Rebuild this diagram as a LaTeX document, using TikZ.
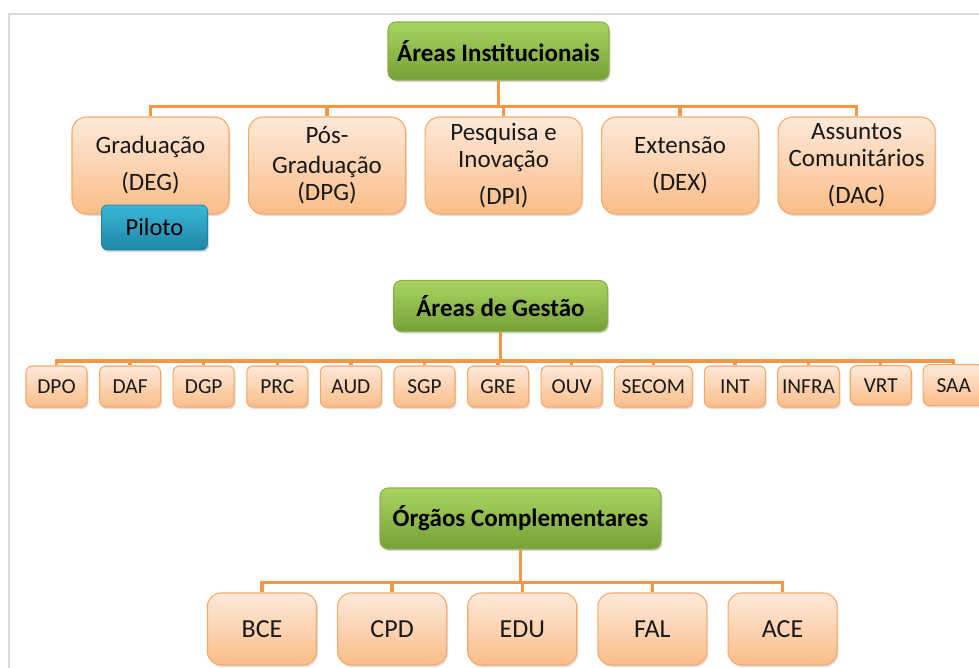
\documentclass[tikz,border=0pt]{standalone}
\usepackage{fontspec}
\setmainfont{Carlito}
\usepackage{tikz}
\usetikzlibrary{shapes.geometric, shadows}
\definecolor{laranja}{HTML}{F79646}
\definecolor{laranjaborda}{HTML}{F8A866}
\definecolor{pessego}{HTML}{FDE9DA}
\definecolor{pessegoescuro}{HTML}{FBBD88}
\definecolor{verdeclaro}{HTML}{AAD460}
\definecolor{verdeescuro}{HTML}{76A038}
\definecolor{verdeborda}{HTML}{8AAE48}
\definecolor{azulclaro}{HTML}{3AB6D8}
\definecolor{azulescuro}{HTML}{1D88A6}
\definecolor{cinza}{HTML}{DADADA}
\tikzstyle{titulo} = [rectangle, rounded corners=6pt, draw=verdeborda, line width=0.8pt, top color=verdeclaro, bottom color=verdeescuro, text centered, font=\bfseries\fontsize{18.75}{22}\selectfont, drop shadow={opacity=0.3, shadow xshift=1pt, shadow yshift=-1.5pt}]
\tikzstyle{area} = [rectangle, rounded corners=11pt, minimum width=117.75pt, minimum height=72.75pt, align=center, draw=laranjaborda, line width=0.8pt, top color=pessego, bottom color=pessegoescuro, text=black!90, font=\fontsize{18.75}{20.25}\selectfont, drop shadow={opacity=0.25, shadow xshift=1pt, shadow yshift=-1.5pt}]
\tikzstyle{setor} = [rectangle, rounded corners=4.5pt, minimum width=45.75pt, minimum height=30.75pt, text centered, draw=laranjaborda, line width=0.8pt, top color=pessego, bottom color=pessegoescuro, text=black!90, font=\fontsize{16}{18}\selectfont, drop shadow={opacity=0.25, shadow xshift=1pt, shadow yshift=-1.5pt}]
\tikzstyle{orgao} = [rectangle, rounded corners=10pt, minimum width=81.75pt, minimum height=54pt, text centered, draw=laranjaborda, line width=0.8pt, top color=pessego, bottom color=pessegoescuro, text=black!90, font=\fontsize{19.5}{22}\selectfont, drop shadow={opacity=0.25, shadow xshift=1pt, shadow yshift=-1.5pt}]
\tikzstyle{piloto} = [rectangle, rounded corners=4.5pt, minimum width=79.5pt, minimum height=33.75pt, text centered, draw=azulescuro, line width=0.6pt, top color=azulclaro, bottom color=azulescuro, font=\fontsize{18.4}{22}\selectfont, drop shadow={opacity=0.3, shadow xshift=1pt, shadow yshift=-1.5pt}]
\tikzstyle{ligacao} = [draw=laranja, line width=2.5pt]
\tikzstyle{moldura} = [draw=cinza, line width=1.5pt]

\begin{document}
\begin{tikzpicture}[x=0.75pt, y=-0.75pt]
		\useasboundingbox (0,0) rectangle (979,668);
		\clip (0,0) rectangle (979,668);
		\draw [moldura] (979,14) -- (9,14) -- (9,668);
		
		% areas institucionais
		\node (inst) [titulo, minimum width=165.75pt, minimum height=43.5pt] at (498.5,51) {Áreas Institucionais};
		\begin{scope}[node distance=132.4pt]
		\node (grad) [area] at (150.5,165.5) {Graduação\\[7.5pt](DEG)};
		\node (pos) [area, right of=grad] {Pós-\\[2.5pt]Graduação\\(DPG)};
		\node (pesq) [area, right of=pos] {Pesquisa e\\Inovação\\[7.5pt](DPI)};
		\node (ext) [area, right of=pesq] {Extensão\\[7.5pt](DEX)};
		\node (dac) [area, right of=ext] {Assuntos\\Comunitários\\[7.5pt](DAC)};
		\end{scope}
		\node (pil) [piloto, node distance=46.5pt, below of=grad, xshift=3pt] {Piloto};
		
		\draw [ligacao] (inst.south) -- ++(0,26) -| (grad.north);
		\draw [ligacao] (inst.south) -- ++(0,26) -| (pos.north);
		\draw [ligacao] (inst.south) -- ++(0,26) -| (pesq.north);
		\draw [ligacao] (inst.south) -- ++(0,26) -| (ext.north);
		\draw [ligacao] (inst.south) -- ++(0,26) -| (dac.north);
		
		% areas de gestao
		\node (gest) [titulo, minimum width=160.5pt, minimum height=38.25pt] at (500.5,306) {Áreas de Gestão};
		\begin{scope}[node distance=55.2pt]
		\node (dpo) [setor] at (56.5,386.5) {DPO};
		\node (daf) [setor, right of=dpo] {DAF};
		\node (dgp) [setor, right of=daf] {DGP};
		\node (prc) [setor, right of=dgp] {PRC};
		\node (aud) [setor, right of=prc] {AUD};
		\node (sgp) [setor, right of=aud] {SGP};
		\node (gre) [setor, right of=sgp] {GRE};
		\node (ouv) [setor, right of=gre] {OUV};
		\node (secom) [setor, right of=ouv, xshift=6pt, minimum width=58.5pt] {SECOM};
		\node (int) [setor, right of=secom, xshift=6pt] {INT};
		\node (infra) [setor, right of=int] {INFRA};
		\node (vrt) [setor, right of=infra, xshift=-1pt, yshift=1pt, minimum height=29.25pt] {VRT};
		\node (saa) [setor, right of=vrt, xshift=-0.5pt] {SAA};
		\end{scope}
		
		\draw [ligacao] (gest.south) -- ++(0,29) -| (dpo.north);
		\draw [ligacao] (gest.south) -- ++(0,29) -| (daf.north);
		\draw [ligacao] (gest.south) -- ++(0,29) -| (dgp.north);
		\draw [ligacao] (gest.south) -- ++(0,29) -| (prc.north);
		\draw [ligacao] (gest.south) -- ++(0,29) -| (aud.north);
		\draw [ligacao] (gest.south) -- ++(0,29) -| (sgp.north);
		\draw [ligacao] (gest.south) -- ++(0,29) -| (gre.north);
		\draw [ligacao] (gest.south) -- ++(0,29) -| (ouv.north);
		\draw [ligacao] (gest.south) -- ++(0,29) -| (secom.north);
		\draw [ligacao] (gest.south) -- ++(0,29) -| (int.north);
		\draw [ligacao] (gest.south) -- ++(0,29) -| (infra.north);
		\draw [ligacao] (gest.south) -- ++(0,29) -| (vrt.north);
		\draw [ligacao] (gest.south) -- ++(0,29) -| (saa.north);
		
		% orgaos complementares
		\node (org) [titulo, minimum width=210.75pt, minimum height=45.75pt] at (520.5,518.5) {Órgãos Complementares};
		\begin{scope}[node distance=97.6pt]
		\node (bce) [orgao] at (262,629) {BCE};
		\node (cpd) [orgao, right of=bce] {CPD};
		\node (edu) [orgao, right of=cpd] {EDU};
		\node (fal) [orgao, right of=edu] {FAL};
		\node (ace) [orgao, right of=fal] {ACE};
		\end{scope}
		
		\draw [ligacao] (org.south) -- ++(0,33) -| (bce.north);
		\draw [ligacao] (org.south) -- ++(0,33) -| (cpd.north);
		\draw [ligacao] (org.south) -- ++(0,33) -| (edu.north);
		\draw [ligacao] (org.south) -- ++(0,33) -| (fal.north);
		\draw [ligacao] (org.south) -- ++(0,33) -| (ace.north);
		
		\end{tikzpicture}
\end{document}
